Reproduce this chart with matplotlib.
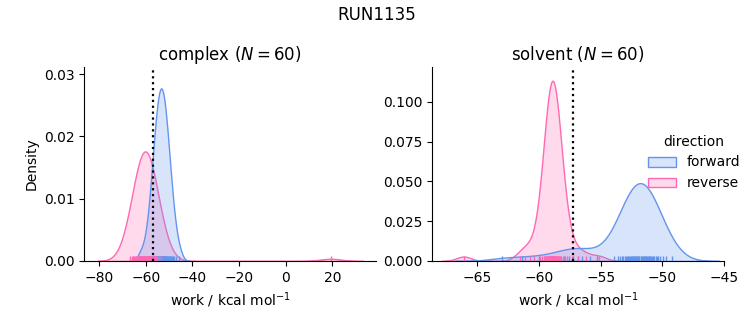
import matplotlib
matplotlib.use("Agg")
import matplotlib.pyplot as plt
import numpy as np
import pandas as pd
import seaborn as sns

run_name = "RUN1135"
phases = ["complex", "solvent"]
directions = ["forward", "reverse"]
n_cycles = 60

complex_forward = [
    -62.1, -60.2, -59.2, -58.6, -58.1, -57.8, -57.5, -57.1, -56.9, -56.7,
    -56.4, -56.3, -56.0, -55.9, -55.7, -55.5, -55.3, -55.2, -55.0, -54.9,
    -54.8, -54.6, -54.4, -54.3, -54.1, -54.0, -53.9, -53.7, -53.6, -53.4,
    -53.3, -53.2, -53.0, -52.9, -52.8, -52.6, -52.5, -52.3, -52.2, -52.0,
    -51.9, -51.7, -51.6, -51.4, -51.3, -51.1, -50.9, -50.7, -50.5, -50.3,
    -50.2, -49.9, -49.6, -49.3, -49.0, -48.7, -48.3, -47.8, -47.0, -45.6,
]
complex_reverse = [
    -66.6, -65.9, -65.4, -64.9, -64.5, -64.2, -63.9, -63.7, -63.4, -63.2,
    -63.0, -62.8, -62.6, -62.5, -62.3, -62.1, -62.0, -61.8, -61.7, -61.6,
    -61.4, -61.3, -61.2, -61.0, -60.9, -60.8, -60.6, -60.5, -60.4, -60.1,
    -60.0, -59.9, -59.8, -59.6, -59.5, -59.4, -59.2, -59.1, -59.0, -58.8,
    -58.7, -58.6, -58.4, -58.3, -58.1, -57.9, -57.8, -57.6, -57.4, -57.2,
    -57.0, -56.8, -56.5, -56.2, -55.9, -55.5, -55.0, -54.4, -53.6, 19.3,
]
solvent_forward = [
    -63.0, -61.4, -60.0, -58.9, -58.0, -57.6, -57.2, -56.8, -56.5, -55.9, -55.3,
    -53.89, -53.63, -53.44, -53.29, -53.17, -53.06, -52.96, -52.87, -52.78, -52.71,
    -52.63, -52.56, -52.49, -52.43, -52.37, -52.31, -52.24, -52.19, -52.13, -52.08,
    -52.02, -51.97, -51.91, -51.86, -51.74, -51.69, -51.63, -51.58, -51.52, -51.47,
    -51.41, -51.36, -51.29, -51.23, -51.17, -51.11, -51.04, -50.97, -50.89, -50.82,
    -50.73, -50.64, -50.54, -50.43, -50.31, -50.16, -49.97, -49.71, -49.22,
]
solvent_reverse = [
    -66.1, -61.5, -61.1, -60.7, -60.4,
    -59.91, -59.73, -59.61, -59.54, -59.49, -59.44, -59.39, -59.35, -59.31, -59.28,
    -59.25, -59.21, -59.19, -59.16, -59.14, -59.11, -59.09, -59.06, -59.04, -59.01,
    -58.99, -58.96, -58.95, -58.93, -58.91, -58.90, -58.88, -58.85, -58.84, -58.81,
    -58.79, -58.76, -58.74, -58.71, -58.69, -58.66, -58.64, -58.61, -58.59, -58.55,
    -58.52, -58.49, -58.45, -58.41, -58.36, -58.31, -58.26, -58.19, -58.07, -57.89,
    -57.7, -57.3, -56.8, -56.2, -55.1,
]
free_energy = {"complex": -56.7, "solvent": -57.2}
palette = {"forward": "cornflowerblue", "reverse": "hotpink"}

series = {
    ("complex", "forward"): complex_forward,
    ("complex", "reverse"): complex_reverse,
    ("solvent", "forward"): solvent_forward,
    ("solvent", "reverse"): solvent_reverse,
}
frames = []
for (phase, direction), works in series.items():
    frames.append(pd.DataFrame({"work": works, "phase": phase, "direction": direction}))
df = pd.concat(frames, ignore_index=True)

g = sns.displot(
    data=df, x="work", hue="direction", col="phase", kind="kde",
    fill=True, rug=True, palette=palette, hue_order=directions,
    col_order=phases, facet_kws=dict(sharex=False, sharey=False),
)
fig = g.figure
fig.set_size_inches(7.53, 3.25)
fig.subplots_adjust(left=0.112, right=0.9615, bottom=0.197, top=0.795, wspace=0.193)

xlims = {"complex": (-86.3, 38.7), "solvent": (-68.64, -45.0)}
ylims = {"complex": (0, 0.0312), "solvent": (0, 0.1222)}
for ax, phase in zip(g.axes.flat, phases):
    ax.axvline(free_energy[phase], color="black", linestyle=":", lw=1.6)
    ax.set_title(f"{phase} ($N={n_cycles}$)", pad=5)
    ax.set_xlabel(r"work / kcal mol$^{-1}$")
    ax.set_xlim(*xlims[phase])
    ax.set_ylim(*ylims[phase])

fig.suptitle(run_name)
sns.move_legend(g, "center right", bbox_to_anchor=(1.0, 0.5), frameon=False)
fig.savefig("out.png", dpi=100)
